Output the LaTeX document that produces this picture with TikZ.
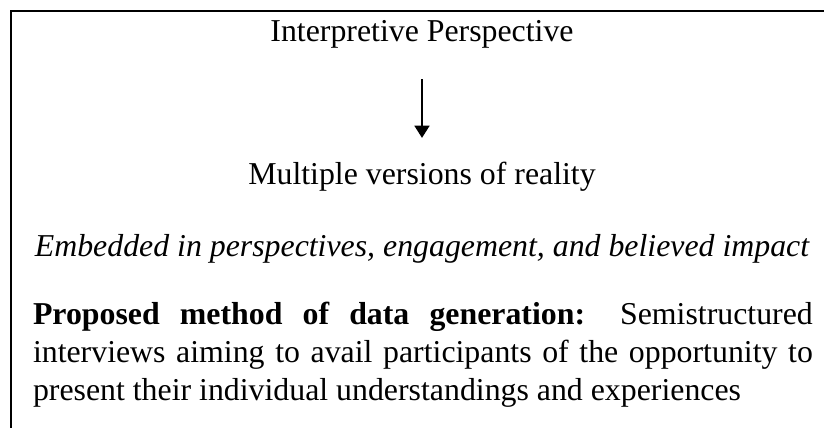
\documentclass[tikz,border=0pt]{standalone}
\usepackage{fontspec}
\setmainfont{Liberation Serif}
\usetikzlibrary{arrows.meta}
\begin{document}
\begin{tikzpicture}[x=0.377pt,y=-0.377pt,
  txt/.style={inner sep=0pt,outer sep=0pt,font=\fontsize{12pt}{14.15pt}\selectfont},
  frameline/.style={line width=0.75pt,black},
  conn/.style={line width=0.75pt,-{Triangle[length=4.6pt,width=5.6pt]}}]
\useasboundingbox (0,0) rectangle (824,428);
\draw[frameline] (11,428) -- (11,11) -- (830,11);
\node[txt,anchor=base] (title) at (422,42) {Interpretive Perspective};
\node[txt,anchor=base] (multi) at (422,185) {Multiple versions of reality};
\node[txt,anchor=base] (embed) at (422,257) {\itshape Embedded in perspectives, engagement, and believed impact};
\node[txt,anchor=base west,text width=294pt,align=justify] (method) at (33,325)
 {\textbf{Proposed method of data generation:} Semistructured\linebreak
  interviews aiming to avail participants of the opportunity to\linebreak
  present their individual understandings and experiences};
\draw[conn,shorten <=11.5pt,shorten >=9.3pt] (title.south) -- (multi.north);
\end{tikzpicture}
\end{document}
